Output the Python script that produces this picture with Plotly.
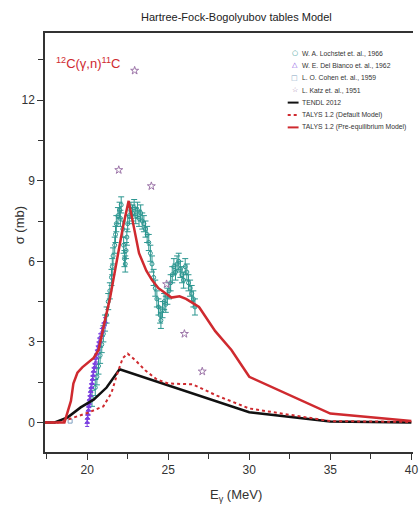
import plotly.graph_objects as go

# ---- evaluated cross sections (E in MeV, sigma in mb) ----
tendl_E = [17.4, 18.0, 18.8, 19.6, 20.4, 21.2, 22.0, 30.0, 35.0, 40.0]
tendl_s = [0.0, 0.0, 0.19, 0.56, 0.85, 1.30, 1.98, 0.38, 0.04, 0.0]

talys_def_E = [17.4, 18.2, 19.0, 20.0, 21.0, 21.5, 21.85, 22.2, 22.5, 23.0, 23.6, 24.3,
               25.0, 26.5, 28.0, 30.0, 35.0, 40.0]
talys_def_s = [0.0, 0.0, 0.15, 0.35, 0.6, 1.1, 1.8, 2.4, 2.56, 2.3, 1.93, 1.6,
               1.45, 1.42, 1.0, 0.52, 0.05, 0.02]

talys_pre_E = [17.4, 18.6, 18.8, 19.0, 19.15, 19.4, 19.7, 20.4, 20.7, 20.9, 21.1, 21.4,
               21.8, 22.2, 22.56, 22.9, 23.2, 23.65, 24.0, 24.4, 24.9, 25.2, 25.7, 26.1,
               26.5, 26.9, 27.9, 28.9, 30.0, 35.0, 40.0]
talys_pre_s = [0.0, 0.0, 0.4, 0.8, 1.45, 1.85, 2.05, 2.4, 2.7, 3.3, 3.8, 4.6,
               6.0, 7.25, 8.25, 7.25, 6.3, 5.65, 5.3, 5.0, 4.8, 4.65, 4.7, 4.6,
               4.45, 4.3, 3.4, 2.7, 1.7, 0.33, 0.05]

# ---- experimental data ----
lochstet_E = [20.3, 20.5, 20.6, 20.7, 20.8, 20.9, 21.0, 21.1, 21.2, 21.3, 21.4, 21.5,
              21.55, 21.6, 21.7, 21.75, 21.8, 21.9, 22.0, 22.05, 22.1, 22.2, 22.25, 22.3,
              22.35, 22.4, 22.45, 22.5, 22.6, 22.7, 22.8, 22.9, 23.0, 23.1, 23.2, 23.3,
              23.4, 23.5, 23.6, 23.7, 23.8, 23.9, 24.0, 24.1, 24.2, 24.3, 24.4, 24.5,
              24.55, 24.65, 24.75, 24.85, 24.95, 25.05, 25.15, 25.25, 25.35, 25.45, 25.55,
              25.65, 25.75, 25.85, 25.95, 26.05, 26.15, 26.25, 26.35, 26.45, 26.55, 26.65]
lochstet_s = [0.9, 1.3, 1.7, 2.1, 2.5, 2.9, 3.3, 3.7, 4.0, 4.5, 4.9, 5.4,
              5.8, 6.2, 6.6, 7.0, 7.4, 7.7, 7.9, 7.6, 8.1, 7.2, 6.6, 6.1,
              5.9, 6.4, 6.9, 7.4, 7.7, 7.9, 7.8, 8.0, 7.7, 7.9, 7.6, 7.8,
              7.5, 7.4, 7.2, 7.0, 6.7, 6.3, 5.9, 5.4, 5.0, 4.6, 4.3, 4.0,
              3.8, 4.2, 4.5, 4.4, 4.7, 4.9, 5.2, 5.5, 5.8, 5.6, 5.9,
              6.0, 5.7, 5.5, 5.3, 5.8, 5.6, 5.2, 5.0, 4.8, 4.6, 4.3]
lochstet_err = [0.3] * len(lochstet_E)

delbianco_E = [20.0, 20.02, 20.05, 20.08, 20.1, 20.12, 20.15, 20.2, 20.22, 20.25, 20.3,
               20.33, 20.37, 20.4, 20.45, 20.5, 20.55, 20.6, 20.65, 20.7, 20.75, 20.8,
               20.9, 21.0, 21.1]
delbianco_s = [0.0, 0.15, 0.3, 0.45, 0.6, 0.7, 0.85, 1.0, 1.15, 1.3, 1.45,
               1.6, 1.75, 1.9, 2.05, 2.2, 2.4, 2.55, 2.7, 2.85, 3.0, 3.15,
               3.35, 3.55, 3.75]
delbianco_err = [0.15] * len(delbianco_E)

cohen_E = [18.95]
cohen_s = [0.05]

katz_E = [21.95, 22.93, 23.96, 24.9, 26.0, 27.1]
katz_s = [9.4, 13.1, 8.8, 5.15, 3.3, 1.9]

# ---- styling ----
RED = "#cf2a2f"
TEAL = "#2b9690"
VIOLET = "#7b3fe0"
STAR = "#9c74a8"
SQUARE = "#7f9fc0"
TXT = "#333333"
FONT = "Liberation Sans, Arial, sans-serif"

W, H = 420, 511
PL, PR, PT, PB = 45, 418, 33, 452


def fx(px):
    return (px - PL) / (PR - PL)


def fy(py):
    return (PB - py) / (PB - PT)


fig = go.Figure()

fig.add_trace(go.Scatter(
    x=lochstet_E, y=lochstet_s, mode="markers", name="W. A. Lochstet et. al., 1966",
    marker=dict(symbol="circle-open", size=4, color=TEAL, line=dict(width=1)),
    error_y=dict(type="data", array=lochstet_err, color=TEAL, thickness=1, width=3),
))
fig.add_trace(go.Scatter(
    x=delbianco_E, y=delbianco_s, mode="markers", name="W. E. Del Bianco et. al., 1962",
    marker=dict(symbol="triangle-up-open", size=4, color=VIOLET, line=dict(width=1)),
    error_y=dict(type="data", array=delbianco_err, color=VIOLET, thickness=1, width=2),
))
fig.add_trace(go.Scatter(
    x=cohen_E, y=cohen_s, mode="markers", name="L. O. Cohen et. al., 1959",
    marker=dict(symbol="square-open", size=4, color=SQUARE, line=dict(width=1)),
))
fig.add_trace(go.Scatter(
    x=katz_E, y=katz_s, mode="markers", name="L. Katz et. al., 1951",
    marker=dict(symbol="star-open", size=6, color=STAR, line=dict(width=1)),
))
fig.add_trace(go.Scatter(
    x=tendl_E, y=tendl_s, mode="lines", name="TENDL 2012",
    line=dict(color="#111111", width=2.5),
))
fig.add_trace(go.Scatter(
    x=talys_def_E, y=talys_def_s, mode="lines", name="TALYS 1.2 (Default Model)",
    line=dict(color=RED, width=2, dash="dot"),
))
fig.add_trace(go.Scatter(
    x=talys_pre_E, y=talys_pre_s, mode="lines", name="TALYS 1.2 (Pre-equilibrium Model)",
    line=dict(color=RED, width=2.5),
))

annotations = [
    dict(text="Hartree-Fock-Bogolyubov tables Model", x=fx(239), y=fy(17),
         font=dict(size=11, color="#222222")),
    dict(text="<sup>12</sup>C(γ,n)<sup>11</sup>C", x=fx(54), y=fy(63), xanchor="left",
         font=dict(size=13, color=RED)),
    dict(text="σ (mb)", x=fx(20), y=fy(225), textangle=-90,
         font=dict(size=13, color=TXT)),
    dict(text="E<sub>γ</sub> (MeV)", x=fx(239), y=fy(495),
         font=dict(size=13, color=TXT)),
]

# legend, drawn as text rows with symbol glyphs and line samples
legend_rows = [
    ("○", TEAL, "W. A. Lochstet et. al., 1966"),
    ("△", VIOLET, "W. E. Del Bianco et. al., 1962"),
    ("□", SQUARE, "L. O. Cohen et. al., 1959"),
    ("☆", STAR, "L. Katz et. al., 1951"),
    (None, "#111111", "TENDL 2012"),
    (None, RED, "TALYS 1.2 (Default Model)"),
    (None, RED, "TALYS 1.2 (Pre-equilibrium Model)"),
]
line_styles = {"TENDL 2012": "solid", "TALYS 1.2 (Default Model)": "dot",
               "TALYS 1.2 (Pre-equilibrium Model)": "solid"}
shapes = []
row_y0, row_step = 53, 12.4
for i, (glyph, col, label) in enumerate(legend_rows):
    yy = row_y0 + i * row_step
    annotations.append(dict(text=label, x=fx(303), y=fy(yy), xanchor="left",
                            font=dict(size=6.8, color=TXT)))
    if glyph:
        annotations.append(dict(text=glyph, x=fx(298), y=fy(yy),
                                font=dict(size=7, color=col, family="DejaVu Sans")))
    else:
        shapes.append(dict(type="line", xref="paper", yref="paper",
                           x0=fx(291), x1=fx(302), y0=fy(yy), y1=fy(yy),
                           line=dict(color=col, width=2, dash=line_styles[label])))

for a in annotations:
    a.setdefault("xref", "paper")
    a.setdefault("yref", "paper")
    a.setdefault("showarrow", False)
    a.setdefault("xanchor", "center")
    a.setdefault("yanchor", "middle")

fig.update_layout(
    width=W, height=H,
    margin=dict(l=PL, r=W - PR, t=PT, b=H - PB, pad=0),
    paper_bgcolor="white", plot_bgcolor="white",
    font=dict(family=FONT, color=TXT),
    showlegend=False,
    annotations=annotations,
    shapes=shapes,
    xaxis=dict(
        range=[17.4, 40.1], tickvals=[20, 25, 30, 35, 40],
        ticks="outside", ticklen=6, tickwidth=1.2, tickcolor="#333",
        minor=dict(dtick=2.5, tick0=20, ticks="outside", ticklen=5, tickcolor="#333"),
        showgrid=False, zeroline=False, showline=True, linecolor="#333", linewidth=1.5,
        mirror=True, tickfont=dict(size=12, color=TXT), ticklabeloverflow="allow",
    ),
    yaxis=dict(
        range=[-1.1, 14.5], tickvals=[0, 3, 6, 9, 12],
        ticks="outside", ticklen=6, tickwidth=1.2, tickcolor="#333",
        minor=dict(dtick=1.5, tick0=0, ticks="outside", ticklen=5, tickcolor="#333"),
        showgrid=False, zeroline=False, showline=True, linecolor="#333", linewidth=1.5,
        tickfont=dict(size=12, color=TXT),
    ),
)

fig.write_html("out.html")
